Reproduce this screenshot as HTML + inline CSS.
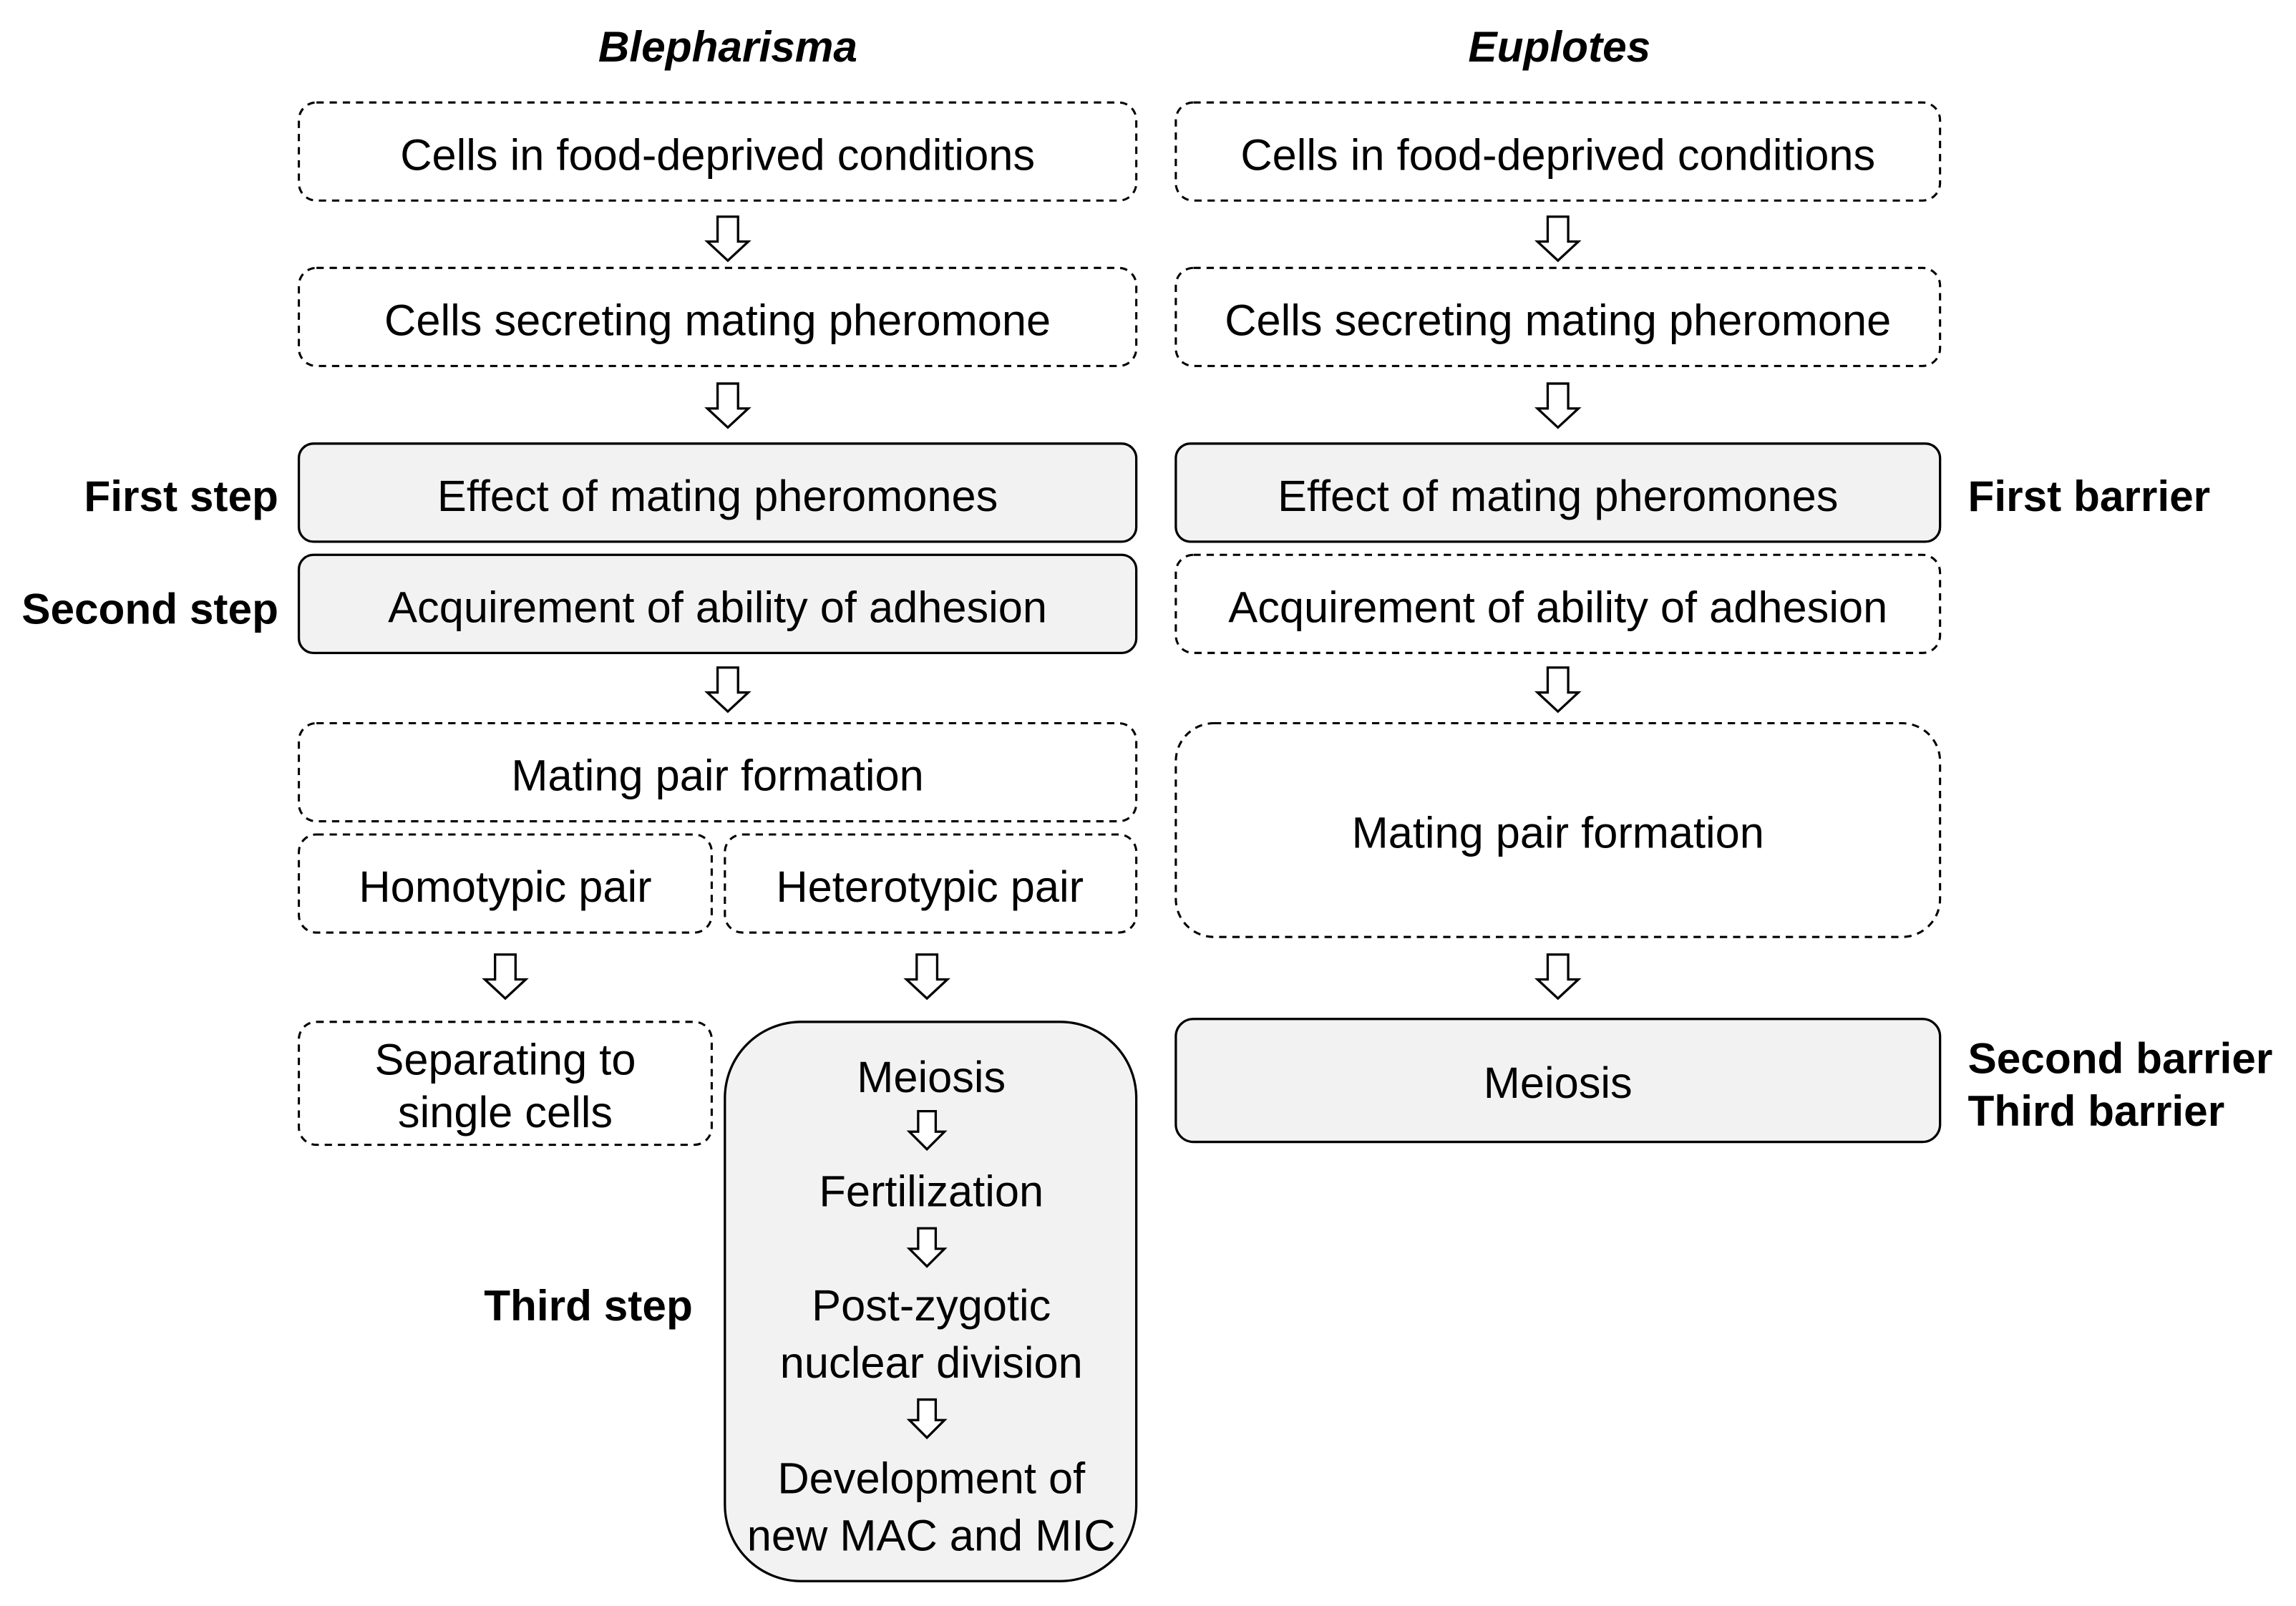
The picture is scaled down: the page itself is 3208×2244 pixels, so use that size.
<!DOCTYPE html>
<html><head><meta charset="utf-8"><style>html,body{margin:0;padding:0;background:#fff}svg{display:block}</style></head>
<body>
<svg width="3208" height="2244" viewBox="0 0 1568 1097" xmlns="http://www.w3.org/2000/svg" font-family="Liberation Sans, Arial, sans-serif">
<defs>
<g id="ar"><path d="M-7,0 H7 V17 H14 L0,30 L-14,17 H-7 Z" fill="#fff" stroke="#000" stroke-width="1.6" stroke-linejoin="miter"/></g>
<g id="sa"><path d="M-6,0 H6 V14 H12 L0,26 L-12,14 H-6 Z" fill="#fff" stroke="#000" stroke-width="1.6"/></g>
</defs>
<g font-size="29.5" text-anchor="middle">
<text x="497" y="42" font-weight="bold" font-style="italic">Blepharisma</text>
<text x="1065" y="42" font-weight="bold" font-style="italic">Euplotes</text>
</g>
<g fill="none" stroke="#000" stroke-width="1.5" stroke-dasharray="5,4">
<rect x="204" y="70" width="572" height="67" rx="12"/>
<rect x="204" y="183" width="572" height="67" rx="12"/>
<rect x="204" y="494" width="572" height="67" rx="12"/>
<rect x="204" y="570" width="282" height="67" rx="12"/>
<rect x="495" y="570" width="281" height="67" rx="12"/>
<rect x="204" y="698" width="282" height="84" rx="12"/>
<rect x="803" y="70" width="522" height="67" rx="12"/>
<rect x="803" y="183" width="522" height="67" rx="12"/>
<rect x="803" y="379" width="522" height="67" rx="12"/>
<rect x="803" y="494" width="522" height="146" rx="26"/>
</g>
<g fill="#f2f2f2" stroke="#000" stroke-width="1.6">
<rect x="204" y="303" width="572" height="67" rx="10"/>
<rect x="204" y="379" width="572" height="67" rx="10"/>
<rect x="495" y="698" width="281" height="382" rx="52"/>
<rect x="803" y="303" width="522" height="67" rx="10"/>
<rect x="803" y="696" width="522" height="84" rx="12"/>
</g>
<use href="#ar" x="497" y="148"/><use href="#ar" x="497" y="262"/><use href="#ar" x="497" y="456"/>
<use href="#ar" x="1064" y="148"/><use href="#ar" x="1064" y="262"/><use href="#ar" x="1064" y="456"/>
<use href="#ar" x="345" y="652"/><use href="#ar" x="633" y="652"/><use href="#ar" x="1064" y="652"/>
<use href="#sa" x="633" y="759"/><use href="#sa" x="633" y="839"/><use href="#sa" x="633" y="956"/>
<g font-size="30" text-anchor="middle">
<text x="490" y="116">Cells in food-deprived conditions</text>
<text x="490" y="229">Cells secreting mating pheromone</text>
<text x="490" y="349">Effect of mating pheromones</text>
<text x="490" y="425">Acquirement of ability of adhesion</text>
<text x="490" y="540">Mating pair formation</text>
<text x="345" y="616">Homotypic pair</text>
<text x="635" y="616">Heterotypic pair</text>
<text x="345" y="734">Separating to</text>
<text x="345" y="770">single cells</text>
<text x="636" y="746">Meiosis</text>
<text x="636" y="824">Fertilization</text>
<text x="636" y="902">Post-zygotic</text>
<text x="636" y="941">nuclear division</text>
<text x="636" y="1020">Development of</text>
<text x="636" y="1059">new MAC and MIC</text>
<text x="1064" y="116">Cells in food-deprived conditions</text>
<text x="1064" y="229">Cells secreting mating pheromone</text>
<text x="1064" y="349">Effect of mating pheromones</text>
<text x="1064" y="425">Acquirement of ability of adhesion</text>
<text x="1064" y="579">Mating pair formation</text>
<text x="1064" y="750">Meiosis</text>
</g>
<g font-size="29.5" font-weight="bold">
<text x="190" y="349" text-anchor="end">First step</text>
<text x="190" y="426" text-anchor="end">Second step</text>
<text x="473" y="902" text-anchor="end">Third step</text>
<text x="1344" y="349">First barrier</text>
<text x="1344" y="733">Second barrier</text>
<text x="1344" y="769">Third barrier</text>
</g>
</svg>
</body></html>
